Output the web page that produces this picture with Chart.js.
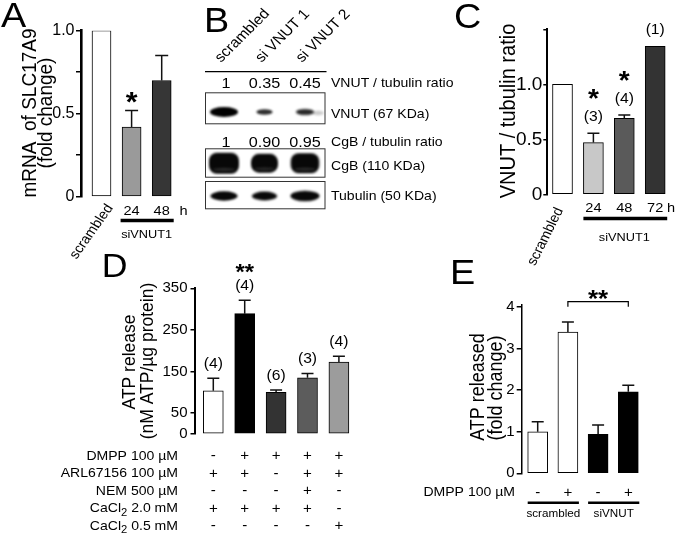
<!DOCTYPE html>
<html><head><meta charset="utf-8">
<script src="https://cdn.jsdelivr.net/npm/chart.js@4.4.1/dist/chart.umd.min.js"></script>
<style>
html,body{margin:0;padding:0;background:#fff;}
#wrap{position:relative;width:680px;height:536px;overflow:hidden;background:#fff;}
canvas{position:absolute;left:0;top:0;}
</style></head><body>
<div id="wrap">
<canvas id="cA" width="680" height="536"></canvas>
<canvas id="cB" width="680" height="536"></canvas>
<canvas id="cC" width="680" height="536"></canvas>
<canvas id="cD" width="680" height="536"></canvas>
<canvas id="cE" width="680" height="536"></canvas>
</div>
<script>
// ================= DATA =================
// Panel A: mRNA of SLC17A9 (fold change)
const aCategories = ['scrambled', '24', '48'];
const aValues = [1.0, 0.42, 0.70];
const aErrors = [0, 0.10, 0.15];
const aSig = ['', '*', ''];
const aTicks = [0, 0.25, 0.5, 0.75, 1.0];
const aTickLabels = ['0', '', '0.5', '', '1.0'];

// Panel B: western blot
const bLanes = ['scrambled', 'si VNUT 1', 'si VNUT 2'];
const bVnutRatio = [1, 0.35, 0.45];
const bCgbRatio = [1, 0.90, 0.95];
const bTubulinLevel = [1.0, 0.93, 1.08];

// Panel C: VNUT / tubulin ratio
const cCategories = ['scrambled', '24', '48', '72'];
const cValues = [1.0, 0.47, 0.69, 1.345];
const cErrors = [0, 0.085, 0.03, 0];
const cN = ['', '(3)', '(4)', '(1)'];
const cSig = ['', '*', '*', ''];
const cTicks = [0, 0.5, 1.0, 1.5];
const cTickLabels = ['0', '0.5', '1.0', ''];

// Panel D: ATP release (nM ATP/µg protein)
const dValues = [104, 289, 100, 135, 173];
const dErrors = [30, 32, 5.5, 10.5, 14];
const dN = ['(4)', '(4)', '(6)', '(3)', '(4)'];
const dSig = ['', '**', '', '', ''];
const dTicks = [0, 50, 150, 250, 350];
const dTickLabels = ['0', '50', '150', '250', '350'];
const dRowLabels = ['DMPP 100 µM', 'ARL67156 100 µM', 'NEM 500 µM', 'CaCl_2 2.0 mM', 'CaCl_2 0.5 mM'];
const dDMPP = [0, 1, 1, 1, 1];
const dARL = [1, 1, 0, 1, 1];
const dNEM = [0, 0, 0, 1, 0];
const dCa20 = [1, 1, 1, 1, 0];
const dCa05 = [0, 0, 0, 0, 1];

// Panel E: ATP released (fold change)
const eValues = [1.0, 3.40, 0.94, 1.96];
const eErrors = [0.24, 0.24, 0.22, 0.16];
const eDMPP = [0, 1, 0, 1];
const eGroups = ['scrambled', 'siVNUT'];
const eTicks = [0, 1, 2, 3, 4];
const eTickLabels = ['0', '1', '2', '3', '4'];

// ================= HELPERS =================
const FONT = '"Liberation Sans", Arial, Helvetica, sans-serif';
const SX = 1.08;   // horizontal stretch of the reference's lettering
const YW = 60;     // fixed y-axis box width
Chart.defaults.font.family = FONT;
Chart.defaults.color = '#000';

function T(ctx, s, x, y, size, o = {}) {
  ctx.save();
  ctx.translate(x, y);
  ctx.scale(o.sx ?? SX, 1);
  if (o.rot) ctx.rotate(o.rot);
  ctx.font = `${o.weight || 'normal'} ${size}px ${FONT}`;
  ctx.fillStyle = o.color || '#000';
  ctx.textAlign = o.align || 'center';
  ctx.textBaseline = 'alphabetic';
  ctx.fillText(s, 0, (o.dy ?? 0.36) * size);
  ctx.restore();
}
function star(ctx, s, x, cy, size) { T(ctx, s, x, cy, size, { weight: 'bold', dy: 0.58 }); }
function sym(v) { return v ? '+' : '-'; }

function richRight(ctx, label, xr, cy, size) {
  const parts = label.split(/_(\d)/);
  ctx.save();
  const widths = parts.map((p, i) => {
    ctx.font = `${i % 2 ? size * 0.8 : size}px ${FONT}`;
    return ctx.measureText(p).width * SX;
  });
  ctx.restore();
  let x = xr - widths.reduce((a, b) => a + b, 0);
  parts.forEach((p, i) => {
    if (i % 2) T(ctx, p, x, cy + size * 0.32, size * 0.8, { align: 'left' });
    else T(ctx, p, x, cy, size, { align: 'left' });
    x += widths[i];
  });
}

function errorBars(ctx, x, y, values, errors, cap, lw) {
  ctx.save(); ctx.strokeStyle = '#111'; ctx.lineWidth = lw;
  values.forEach((v, i) => {
    const e = errors[i]; if (!e) return;
    const px = x.getPixelForValue(i), y0 = y.getPixelForValue(v), y1 = y.getPixelForValue(v + e);
    ctx.beginPath(); ctx.moveTo(px, y0); ctx.lineTo(px, y1);
    ctx.moveTo(px - cap / 2, y1); ctx.lineTo(px + cap / 2, y1); ctx.stroke();
  });
  ctx.restore();
}
function hline(ctx, x0, x1, y, lw) {
  ctx.save(); ctx.strokeStyle = '#000'; ctx.lineWidth = lw;
  ctx.beginPath(); ctx.moveTo(x0, y); ctx.lineTo(x1, y); ctx.stroke(); ctx.restore();
}

function axisY(o) {
  return {
    type: 'linear', position: 'left', min: o.min, max: o.max,
    afterFit: s => { s.width = YW; },
    afterBuildTicks: s => { s.ticks = o.ticks.map(v => ({ value: v })); },
    ticks: { autoSkip: false, font: { size: o.font }, padding: o.pad, color: '#000',
             callback: (v, i) => o.labels[i] },
    grid: { display: true, drawOnChartArea: false, drawTicks: true, tickLength: o.tl,
            lineWidth: o.tw || 1.5, color: '#000' },
    border: { display: true, width: o.aw, color: '#000' }
  };
}

function barPanel(id, P) {
  const xmin = -(P.c0 - P.L) / P.s;
  const xmax = xmin + (P.R - P.L) / P.s;
  return new Chart(document.getElementById(id), {
    type: 'bar',
    data: { datasets: [{
      data: P.values.map((v, i) => ({ x: i, y: v })),
      backgroundColor: P.colors, borderColor: '#000', borderWidth: 1,
      borderSkipped: false, barThickness: P.bw, grouped: false
    }] },
    options: {
      responsive: false, animation: false, devicePixelRatio: 1,
      layout: { padding: { left: P.L - YW, right: 680 - P.R, top: P.T, bottom: 536 - P.B } },
      plugins: { legend: { display: false }, tooltip: { enabled: false } },
      scales: {
        x: { type: 'linear', display: false, min: xmin, max: xmax, offset: false },
        y: axisY(P.axis)
      }
    },
    plugins: [{ id: 'ann' + id, afterDatasetsDraw: (ch) => P.draw(ch.ctx, ch.scales.x, ch.scales.y) }]
  });
}

// ================= PANEL A =================
barPanel('cA', {
  L: 81, c0: 101.5, s: 30.1, R: 190, T: 30.7, B: 196.7, bw: 19,
  values: aValues, colors: ['#ffffff', '#9a9a9a', '#363636'],
  axis: { min: 0, max: 1, ticks: aTicks, labels: aTickLabels, font: 16, pad: 1.5, tl: 5, aw: 2.6 },
  draw: (ctx, x, y) => {
    errorBars(ctx, x, y, aValues, aErrors, 13, 1.5);
    aSig.forEach((s, i) => { if (s) star(ctx, s, x.getPixelForValue(i), y.getPixelForValue(aValues[i] + aErrors[i]) - 16, 28); });
    T(ctx, 'A', 1, 27.3, 35, { align: 'left', dy: 0 });
    T(ctx, 'mRNA  of SLC17A9', 28.5, 113, 19, { rot: -Math.PI / 2 });
    T(ctx, '(fold change)', 46, 113, 19, { rot: -Math.PI / 2, dy: 0.3 });
    for (let i = 1; i < aCategories.length; i++) T(ctx, aCategories[i], x.getPixelForValue(i), 210, 13.5);
    T(ctx, 'h', 183.5, 210, 13.5);
    hline(ctx, x.getPixelForValue(1) - 11, x.getPixelForValue(2) + 12, 220.5, 3.5);
    T(ctx, 'siVNUT1', (x.getPixelForValue(1) + x.getPixelForValue(2)) / 2, 233.5, 11.8);
    T(ctx, aCategories[0], x.getPixelForValue(0) - 11, 231, 13.5, { rot: -56.7 * Math.PI / 180 });
  }
});

// ================= PANEL B (blot) =================
function bandImage(w, h, alpha, shape, tail) {
  const pad = 6;
  const c = document.createElement('canvas');
  c.width = Math.ceil(w + pad * 2 + (tail || 0) * 2); c.height = Math.ceil(h + pad * 2);
  const g = c.getContext('2d');
  g.filter = 'blur(1.3px)';
  const cx = c.width / 2, cy = c.height / 2;
  g.fillStyle = `rgba(0,0,0,${alpha})`;
  g.beginPath();
  if (shape === 'rect') {
    const r = Math.min(8, h / 2);
    g.roundRect(cx - w / 2, cy - h / 2, w, h, r);
  } else {
    g.ellipse(cx, cy, w / 2, h / 2, 0, 0, Math.PI * 2);
  }
  g.fill();
  if (shape === 'rect') {
    g.fillStyle = 'rgba(110,110,110,0.35)';
    g.beginPath(); g.ellipse(cx, cy + h * 0.3, w * 0.38, h * 0.07, 0, 0, Math.PI * 2); g.fill();
  }
  if (tail) {
    g.fillStyle = `rgba(0,0,0,${alpha * 0.25})`;
    g.beginPath(); g.ellipse(cx + w / 2 + tail / 2, cy + 1, tail / 2 + 2, h * 0.35, 0, 0, Math.PI * 2); g.fill();
  }
  return c;
}
const ROW = { vnutTxt: 11, vnutBox: [20.6, 51.6], vnutBand: 40.3, cgbTxt: 70, cgbBox: [76.6, 105], cgbBand: 91.5, tubBox: [109.3, 136.6], tubBand: 124.3 };
const vnutImgs = bVnutRatio.map((v, i) => bandImage(10 + 18 * v, 3 + 7 * v, 0.72 + 0.28 * v, 'ellipse', i === 2 ? 8 : 0));
const cgbImgs = bCgbRatio.map(v => bandImage(30 * v, 21 * v, 0.97, 'rect'));
const tubImgs = bTubulinLevel.map(v => bandImage(27 * v, 9.5 * v, 0.97, 'ellipse'));
(function () {
  const L = 205, R = 324.5, c0 = 224, s = 40.5, top = 71.7, bottom = 208.3;
  const xmin = -(c0 - L) / s, xmax = xmin + (R - L) / s;
  const ds = (vals, imgs, yv) => ({
    data: vals.map((v, i) => ({ x: i, y: yv })),
    pointStyle: imgs, pointRadius: 4, pointBorderWidth: 0, backgroundColor: '#000', borderColor: '#000'
  });
  new Chart(document.getElementById('cB'), {
    type: 'scatter',
    data: { datasets: [ds(bVnutRatio, vnutImgs, ROW.vnutBand), ds(bCgbRatio, cgbImgs, ROW.cgbBand), ds(bTubulinLevel, tubImgs, ROW.tubBand)] },
    options: {
      responsive: false, animation: false, devicePixelRatio: 1,
      layout: { padding: { left: L, right: 680 - R, top: top, bottom: 536 - bottom } },
      plugins: { legend: { display: false }, tooltip: { enabled: false } },
      scales: {
        x: { type: 'linear', display: false, min: xmin, max: xmax },
        y: { type: 'linear', display: false, min: 0, max: bottom - top, reverse: true }
      }
    },
    plugins: [{
      id: 'blot',
      beforeDatasetsDraw: (ch) => {
        const ctx = ch.ctx, y = ch.scales.y, ca = ch.chartArea;
        ctx.save(); ctx.strokeStyle = '#333'; ctx.lineWidth = 1;
        [ROW.vnutBox, ROW.cgbBox, ROW.tubBox].forEach(b => {
          const y0 = y.getPixelForValue(b[0]), y1 = y.getPixelForValue(b[1]);
          ctx.strokeRect(ca.left + 0.5, y0 + 0.5, ca.right - ca.left, y1 - y0);
        });
        ctx.restore();
      },
      afterDatasetsDraw: (ch) => {
        const ctx = ch.ctx, x = ch.scales.x, y = ch.scales.y, ca = ch.chartArea;
        T(ctx, 'B', 204, 31.5, 35, { align: 'left', dy: 0 });
        hline(ctx, ca.left, ca.right + 2, y.getPixelForValue(0), 1.2);
        const fmt = (v, i) => i === 0 ? String(v) : v.toFixed(2);
        bVnutRatio.forEach((v, i) => T(ctx, fmt(v, i), x.getPixelForValue(i) + (i === 0 ? 2 : 0), y.getPixelForValue(ROW.vnutTxt), 15));
        bCgbRatio.forEach((v, i) => T(ctx, fmt(v, i), x.getPixelForValue(i) + (i === 0 ? 2 : 0), y.getPixelForValue(ROW.cgbTxt), 15));
        const lx = ca.right + 6.5;
        T(ctx, 'VNUT / tubulin ratio', lx, y.getPixelForValue(ROW.vnutTxt), 13, { align: 'left' });
        T(ctx, 'VNUT (67 KDa)', lx, y.getPixelForValue(ROW.vnutBand) + 1.3, 13, { align: 'left' });
        T(ctx, 'CgB / tubulin ratio', lx, y.getPixelForValue(ROW.cgbTxt), 13, { align: 'left' });
        T(ctx, 'CgB (110 KDa)', lx, y.getPixelForValue(ROW.cgbBand) + 2.5, 13, { align: 'left' });
        T(ctx, 'Tubulin (50 KDa)', lx, y.getPixelForValue(ROW.tubBand) - 1, 13, { align: 'left' });
        bLanes.forEach((s, i) => T(ctx, s, x.getPixelForValue(i) - 3, 63, 14.5, { align: 'left', dy: 0, rot: -47 * Math.PI / 180 }));
      }
    }]
  });
})();

// ================= PANEL C =================
barPanel('cC', {
  L: 547.3, c0: 562.5, s: 30.9, R: 676, T: 29.3, B: 194.3, bw: 20,
  values: cValues, colors: ['#ffffff', '#c8c8c8', '#5a5a5a', '#333333'],
  axis: { min: 0, max: 1.5, ticks: cTicks, labels: cTickLabels, font: 19, pad: 1, tl: 4, aw: 2 },
  draw: (ctx, x, y) => {
    errorBars(ctx, x, y, cValues, cErrors, 12, 1.5);
    cValues.forEach((v, i) => {
      const top = y.getPixelForValue(v + cErrors[i]);
      if (cN[i]) T(ctx, cN[i], x.getPixelForValue(i), top - 16.5, 14.5, { dy: 0.3 });
      if (cSig[i]) star(ctx, cSig[i], x.getPixelForValue(i), top - 16.5 - 24.5, 26);
    });
    T(ctx, 'C', 454, 28.3, 35, { align: 'left', dy: 0 });
    T(ctx, 'VNUT / tubulin ratio', 507, 111, 20, { rot: -Math.PI / 2 });
    for (let i = 1; i < cCategories.length; i++) T(ctx, cCategories[i], x.getPixelForValue(i), 207, 13.5);
    T(ctx, 'h', 671, 207, 13.5);
    hline(ctx, x.getPixelForValue(1) - 10, x.getPixelForValue(3) + 12, 218.5, 3.5);
    T(ctx, 'siVNUT1', (x.getPixelForValue(1) + x.getPixelForValue(3)) / 2, 237, 11.8);
    T(ctx, cCategories[0], x.getPixelForValue(0) - 18, 236, 13.5, { rot: -65 * Math.PI / 180 });
  }
});

// ================= PANEL D =================
const dRows = [dDMPP, dARL, dNEM, dCa20, dCa05];
barPanel('cD', {
  L: 194.5, c0: 213.3, s: 31.4, R: 362, T: 288.3, B: 434, bw: 20,
  values: dValues, colors: ['#ffffff', '#000000', '#333333', '#5c5c5c', '#9c9c9c'],
  axis: { min: 0, max: 350, ticks: dTicks, labels: dTickLabels, font: 15, pad: 3, tl: 4, aw: 2 },
  draw: (ctx, x, y) => {
    errorBars(ctx, x, y, dValues, dErrors, 12, 1.5);
    dValues.forEach((v, i) => {
      const ny = y.getPixelForValue(v + dErrors[i]) - 14.5;
      T(ctx, dN[i], x.getPixelForValue(i), ny, 14.5, { dy: 0.3 });
      if (dSig[i]) star(ctx, dSig[i], x.getPixelForValue(i), ny - 20, 22);
    });
    T(ctx, 'D', 101.7, 276.7, 33, { align: 'left', dy: 0 });
    T(ctx, 'ATP release', 128, 362, 17.5, { rot: -Math.PI / 2 });
    T(ctx, '(nM ATP/µg protein)', 147, 361, 17.5, { rot: -Math.PI / 2, dy: 0.3 });
    dRowLabels.forEach((lab, r) => {
      const cy = 455 + r * 17.6;
      richRight(ctx, lab, 178, cy, 13);
      dRows[r].forEach((v, i) => T(ctx, sym(v), x.getPixelForValue(i), cy, 14));
    });
  }
});

// ================= PANEL E =================
barPanel('cE', {
  L: 521.7, c0: 537.7, s: 30.2, R: 650, T: 305, B: 473.3, bw: 20,
  values: eValues, colors: ['#ffffff', '#ffffff', '#000000', '#000000'],
  axis: { min: 0, max: 4.05, ticks: eTicks, labels: eTickLabels, font: 15, pad: 2, tl: 5, aw: 1.5 },
  draw: (ctx, x, y) => {
    errorBars(ctx, x, y, eValues, eErrors, 12, 1.5);
    const bx0 = x.getPixelForValue(1), bx1 = x.getPixelForValue(3), by = 301.7;
    ctx.save(); ctx.strokeStyle = '#000'; ctx.lineWidth = 1.2;
    ctx.beginPath(); ctx.moveTo(bx0, by + 5); ctx.lineTo(bx0, by); ctx.lineTo(bx1, by); ctx.lineTo(bx1, by + 5); ctx.stroke();
    ctx.restore();
    star(ctx, '**', (bx0 + bx1) / 2, 293, 24);
    T(ctx, 'E', 450, 284, 35, { align: 'left', dy: 0 });
    T(ctx, 'ATP released', 477, 387, 18, { rot: -Math.PI / 2 });
    T(ctx, '(fold change)', 496, 388, 18, { rot: -Math.PI / 2, dy: 0.3 });
    T(ctx, 'DMPP 100 µM', 515, 491.7, 13, { align: 'right' });
    eDMPP.forEach((v, i) => T(ctx, sym(v), x.getPixelForValue(i), 491.7, 14));
    for (let g = 0; g < eGroups.length; g++) {
      const a = x.getPixelForValue(2 * g) - 10, b = x.getPixelForValue(2 * g + 1) + 11;
      hline(ctx, a, b, 502.7, 2.5);
      T(ctx, eGroups[g], (a + b) / 2, 513.5, 10.8);
    }
  }
});
</script>
</body></html>
